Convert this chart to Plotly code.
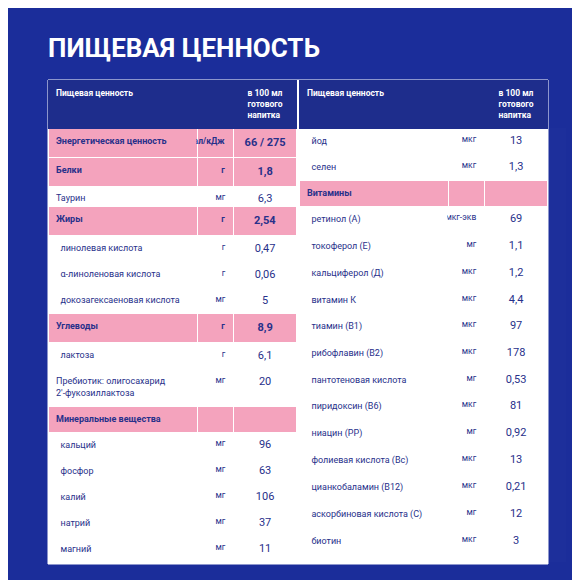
import plotly.graph_objects as go

title = "ПИЩЕВАЯ ЦЕННОСТЬ"
header = ["Пищевая ценность", "", "в 100 мл<br>готового<br>напитка"]

left_names = ["Энергетическая ценность", "Белки", "Таурин", "Жиры", "линолевая кислота",
              "α-линоленовая кислота", "докозагексаеновая кислота", "Углеводы", "лактоза",
              "Пребиотик: олигосахарид<br>2'-фукозиллактоза", "Минеральные вещества",
              "кальций", "фосфор", "калий", "натрий", "магний", "медь", "марганец",
              "железо", "цинк", "хлориды"]
left_units = ["ккал/кДж", "г", "мг", "г", "г", "г", "мг", "г", "г", "мг", "",
              "мг", "мг", "мг", "мг", "мг", "мкг", "мкг", "мг", "мг", "мг"]
left_values = ["66 / 275", "1,8", "6,3", "2,54", "0,47", "0,06", "5", "8,9", "6,1", "20", "",
               "96", "63", "106", "37", "11", "51", "10", "1,2", "0,6", "59"]
left_bold = [1, 1, 0, 1, 0, 0, 0, 1, 0, 0, 1, 0, 0, 0, 0, 0, 0, 0, 0, 0, 0]
left_pink = [1, 1, 0, 1, 0, 0, 0, 1, 0, 0, 1, 0, 0, 0, 0, 0, 0, 0, 0, 0, 0]
left_indent = [0, 0, 0, 0, 1, 1, 1, 0, 1, 0, 0, 1, 1, 1, 1, 1, 1, 1, 1, 1, 1]

right_names = ["йод", "селен", "Витамины", "ретинол (А)", "токоферол (Е)", "кальциферол (Д)",
               "витамин К", "тиамин (В1)", "рибофлавин (В2)", "пантотеновая кислота",
               "пиридоксин (В6)", "ниацин (РР)", "фолиевая кислота (Вс)",
               "цианкобаламин (В12)", "аскорбиновая кислота (С)", "биотин",
               "Инозит", "Холин", "Осмоляльность"]
right_units = ["мкг", "мкг", "", "мкг-экв", "мг", "мкг", "мкг", "мкг", "мкг", "мг", "мкг",
               "мг", "мкг", "мкг", "мг", "мкг", "мг", "мг", "мОсм/кг"]
right_values = ["13", "1,3", "", "69", "1,1", "1,2", "4,4", "97", "178", "0,53", "81",
                "0,92", "13", "0,21", "12", "3", "4,5", "9", "315"]
right_bold = [0, 0, 1, 0, 0, 0, 0, 0, 0, 0, 0, 0, 0, 0, 0, 0, 1, 1, 1]
right_pink = [0, 0, 1, 0, 0, 0, 0, 0, 0, 0, 0, 0, 0, 0, 0, 0, 0, 0, 0]
right_indent = [1, 1, 0, 1, 1, 1, 1, 1, 1, 1, 1, 1, 1, 1, 1, 1, 0, 0, 0]

NAVY = "#1e2d8c"
PINK = "#f4a3bd"
TXT = "#27308a"


def fmt(s, b, ind=0):
    if s == "":
        return ""
    s = ("&nbsp;&nbsp;" if ind else "") + s
    return f"<b>{s}</b>" if b else s


def make_table(names, units, values, bold, pink, indent, x0, x1, h):
    fills = [PINK if p else "white" for p in pink]
    return go.Table(
        domain=dict(x=[x0, x1], y=[1 - 555 / 580, 1 - 72 / 580]),
        columnwidth=[150, 36, 64],
        header=dict(values=[f"<b>{v}</b>" for v in header],
                    fill_color=NAVY, line_color=NAVY, line_width=1,
                    font=dict(color="white", size=8.5, family="Roboto"),
                    align=["left", "right", "center"], height=40),
        cells=dict(values=[[fmt(n, b, i) for n, b, i in zip(names, bold, indent)],
                           [fmt(u, b) for u, b in zip(units, bold)],
                           [fmt(v, b) for v, b in zip(values, bold)]],
                   fill_color=[fills, fills, fills], line_color="white", line_width=1,
                   font=dict(color=TXT, size=[9, 8.5, 11], family="Roboto"),
                   align=["left", "right", "center"], height=h),
    )


fig = go.Figure()
fig.add_trace(make_table(left_names, left_units, left_values, left_bold, left_pink,
                         left_indent, 40 / 580, 289 / 580, 20.3))
fig.add_trace(make_table(right_names, right_units, right_values, right_bold, right_pink,
                         right_indent, 291 / 580, 540 / 580, 22.9))

shapes = [dict(type="rect", xref="paper", yref="paper", x0=40 / 580, x1=540 / 580,
               y0=1 - 556 / 580, y1=1 - 72 / 580, fillcolor="white",
               line=dict(color="white", width=1), layer="below")]
fig.update_layout(
    width=580, height=580, margin=dict(l=0, r=0, t=0, b=0),
    paper_bgcolor="#1b2d9a", shapes=shapes,
    annotations=[dict(text=f"<b>{title}</b>", x=38 / 580, y=1 - 40 / 580, xref="paper",
                      yref="paper", xanchor="left", yanchor="middle", showarrow=False,
                      font=dict(color="white", size=26, family="Roboto"))],
)
fig.write_html("out.html")
